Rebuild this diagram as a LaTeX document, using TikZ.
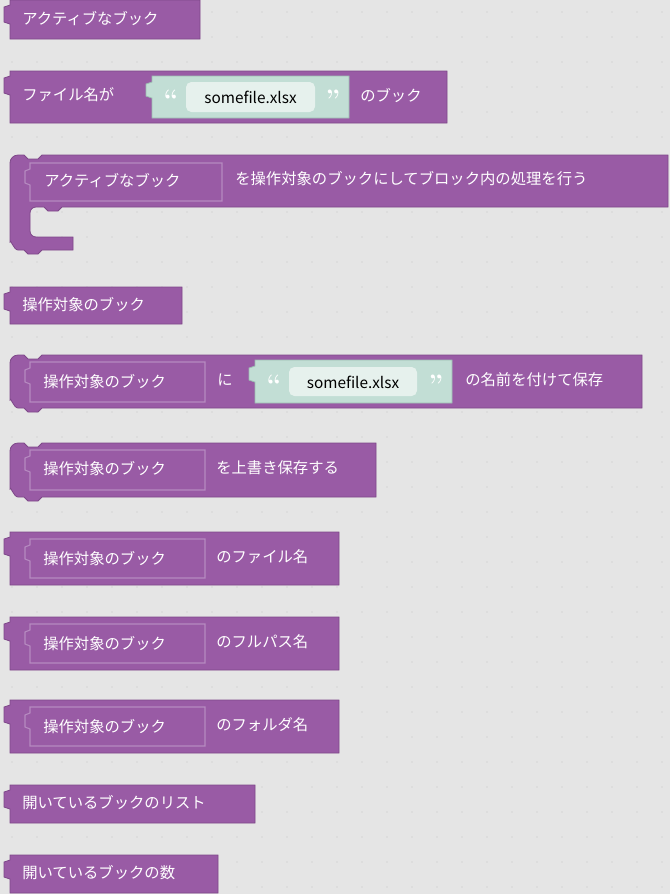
\documentclass[tikz,border=0pt]{standalone}
\usepackage{fontspec}
\newfontfamily\jp{Noto Sans CJK JP}
\setsansfont{Noto Sans CJK JP}
\begin{document}
\begin{tikzpicture}[x=0.75pt,y=-0.75pt,
  blk/.style={fill=bp,draw=bpd,line width=0.6pt},
  fld/.style={draw=bpl,fill=bp,line width=0.8pt},
  grn/.style={fill=gf,draw=gfd,line width=0.6pt},
  wht/.style={fill=gw,rounded corners=4pt},
  lbl/.style={text=white,anchor=west,inner sep=0pt,font=\jp\fontsize{11.5}{14}\selectfont},
  dlbl/.style={text=black,anchor=center,inner sep=0pt,font=\jp\fontsize{11.5}{14}\selectfont},
  qt/.style={text=white,inner sep=0pt,font=\bfseries\fontsize{20}{20}\selectfont}]
\definecolor{bp}{HTML}{995BA5}
\definecolor{bpd}{HTML}{7E4889}
\definecolor{bpl}{HTML}{B68AC0}
\definecolor{gf}{HTML}{C2DED5}
\definecolor{gfd}{HTML}{9CBDB2}
\definecolor{gw}{HTML}{E6F1ED}
\definecolor{bg}{HTML}{E5E5E5}
\fill[bg] (0,0) rectangle (670,894);
\useasboundingbox (0,0) rectangle (670,894);
\foreach \i in {0,...,26}{\foreach \j in {0,...,35}{\fill[gray!45] (12+25*\i,12+25*\j) circle (0.6);}}
% value block with left tab
\newcommand\vblk[4]{% x0 y0 x1 y1
  \path[blk] (#1,#2) -- (#3,#2) -- (#3,#4) -- (#1,#4) -- (#1,#2+24) -- (#1-6,#2+22) -- (#1-6,#2+7) -- (#1,#2+5) -- cycle;}
% statement block (notched top)
\newcommand\sblk[4]{%
  \path[blk] (#1+8,#2) -- (#1+14,#2) -- (#1+18,#2+4) -- (#1+28,#2+4) -- (#1+32,#2) -- (#3,#2) -- (#3,#4) -- (#1+32,#4) -- (#1+28,#4+4) -- (#1+18,#4+4) -- (#1+14,#4) -- (#1+8,#4) to[out=180,in=90] (#1,#4-8) -- (#1,#2+8) to[out=90,in=180] cycle;}
\newcommand\fldbox[4]{%
  \path[fld] (#1,#2) -- (#3,#2) -- (#3,#4) -- (#1,#4) -- (#1,#2+22) -- (#1-5,#2+20) -- (#1-5,#2+8) -- (#1,#2+6) -- cycle;}
\newcommand\grnbox[4]{%
  \path[grn] (#1,#2) -- (#3,#2) -- (#3,#4) -- (#1,#4) -- (#1,#2+22) -- (#1-6,#2+20) -- (#1-6,#2+8) -- (#1,#2+6) -- cycle;}
% 1
\vblk{10}{0}{200}{39}
\node[lbl] (b1) at (22,19) {アクティブなブック};
% 2
\vblk{10}{71}{447}{123}
\node[lbl] (b2) at (22,95) {ファイル名が};
\grnbox{152}{76}{349}{118}
\fill[wht] (186,82) rectangle (315,112);
\node[qt] (q1) at (171,99) {``};
\node[qt] (q2) at (333,99) {''};
\node[dlbl] (s1) at (250.5,97) {somefile.xlsx};
\node[lbl] (b2b) at (360,95) {のブック};
% 3 C-block
\path[blk] (18,155) -- (24,155) -- (28,159) -- (38,159) -- (42,155) -- (668,155) -- (668,207)
 -- (62,207) -- (58,211) -- (48,211) -- (44,207) -- (36,207) to[out=180,in=90] (30,213) -- (30,231) to[out=-90,in=180] (36,237)
 -- (73,237) -- (73,250) -- (42,250) -- (38,254) -- (28,254) -- (24,250) -- (18,250) to[out=180,in=90] (10,242) -- (10,163) to[out=90,in=180] cycle;
\fldbox{30}{163}{222}{201}
\node[lbl] (b3a) at (44,181) {アクティブなブック};
\node[lbl] (b3) at (235,179) {を操作対象のブックにしてブロック内の処理を行う};
% 4
\vblk{10}{287}{182}{324}
\node[lbl] (b4) at (22,305) {操作対象のブック};
% 5
\sblk{10}{355}{642}{408}
\fldbox{30}{362}{205}{402}
\node[lbl] (b5a) at (43,382) {操作対象のブック};
\node[lbl] (b5b) at (217,380) {に};
\grnbox{255}{360}{452}{403}
\fill[wht] (289,367) rectangle (417,396);
\node[qt] (q3) at (274,384) {``};
\node[qt] (q4) at (436,384) {''};
\node[dlbl] (s2) at (353,382) {somefile.xlsx};
\node[lbl] (b5c) at (465,380) {の名前を付けて保存};
% 6
\sblk{10}{443}{376}{497}
\fldbox{30}{450}{205}{490}
\node[lbl] (b6a) at (43,469) {操作対象のブック};
\node[lbl] (b6b) at (216,468) {を上書き保存する};
% 7-9
\foreach \y/\t/\n in {532/のファイル名/7,617/のフルパス名/8,700/のフォルダ名/9}{
  \vblk{10}{\y}{339}{\y+53}
  \fldbox{30}{\y+7}{205}{\y+46}
  \node[lbl] (b\n a) at (43,\y+26.5) {操作対象のブック};
  \node[lbl] (b\n b) at (216,\y+25) {\t};
}
% 10, 11
\vblk{10}{785}{255}{823}
\node[lbl] (b10) at (22,803) {開いているブックのリスト};
\vblk{10}{855}{218}{893}
\node[lbl] (b11) at (22,873) {開いているブックの数};
\end{tikzpicture}
\end{document}
